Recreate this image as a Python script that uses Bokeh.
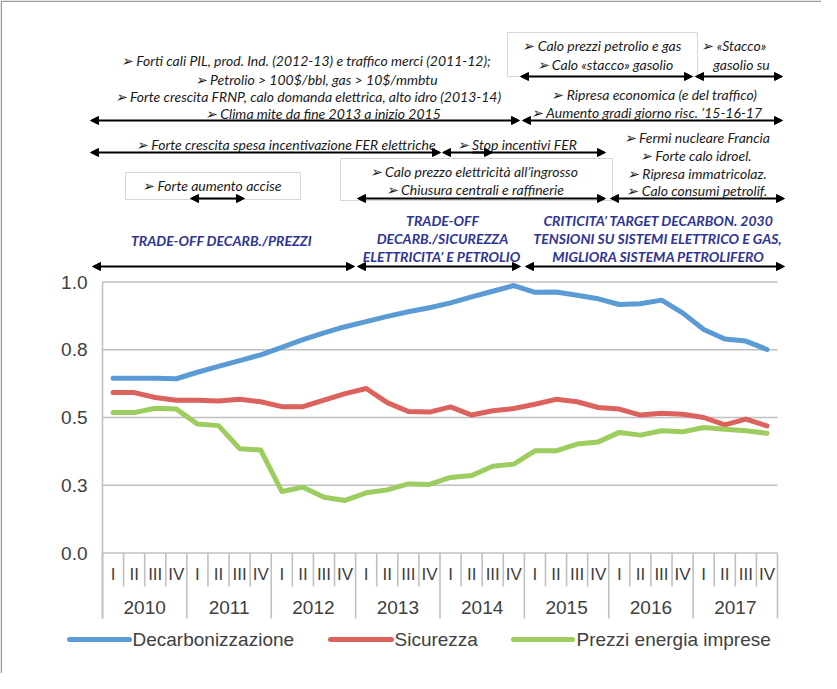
from bokeh.plotting import figure
from bokeh.models import Range1d, Arrow, NormalHead
from bokeh.core.properties import value
from bokeh.embed import file_html
from bokeh.resources import INLINE

# ---------------- data ----------------
years = ["2010", "2011", "2012", "2013", "2014", "2015", "2016", "2017"]
quarters = ["I", "II", "III", "IV"]

decarbonizzazione = [0.645, 0.645, 0.645, 0.643, 0.667, 0.689, 0.710, 0.731,
                     0.759, 0.787, 0.812, 0.835, 0.854, 0.873, 0.890, 0.905,
                     0.923, 0.945, 0.966, 0.987, 0.962, 0.963, 0.951, 0.938,
                     0.917, 0.920, 0.933, 0.886, 0.825, 0.790, 0.782, 0.751]
sicurezza = [0.592, 0.592, 0.574, 0.564, 0.564, 0.561, 0.567, 0.558,
             0.540, 0.540, 0.564, 0.588, 0.607, 0.555, 0.522, 0.520,
             0.539, 0.509, 0.525, 0.533, 0.549, 0.567, 0.558, 0.537,
             0.531, 0.509, 0.516, 0.512, 0.500, 0.473, 0.494, 0.469]
prezzi_energia = [0.518, 0.518, 0.534, 0.531, 0.476, 0.470, 0.385, 0.380,
                  0.227, 0.243, 0.206, 0.194, 0.222, 0.233, 0.255, 0.253,
                  0.279, 0.286, 0.320, 0.328, 0.377, 0.377, 0.402, 0.410,
                  0.445, 0.435, 0.451, 0.447, 0.463, 0.457, 0.451, 0.442]

y_ticks = [0.0, 0.25, 0.5, 0.75, 1.0]
y_tick_labels = ["0.0", "0.3", "0.5", "0.8", "1.0"]

series_names = ["Decarbonizzazione", "Sicurezza", "Prezzi energia imprese"]
series_colors = ["#5b9bd5", "#dc625e", "#9dcc5f"]

# ---------------- layout helpers (page pixels -> data units) ----------------
W, H = 821, 673
OX, OY = 8, 8            # page offset of the canvas
QW = 675.0 / 32          # pixels per quarter
YS = 271.0               # pixels per unit value
def X(px):
    return (px - 110.0) / QW - 0.5
def Y(py):
    return (560.5 - py) / YS

n = len(decarbonizzazione)
xs = list(range(n))

p = figure(width=W, height=H, output_backend="svg", toolbar_location=None,
           x_range=Range1d(X(OX), X(OX + W)), y_range=Range1d(Y(OY + H), Y(OY)),
           min_border=0, outline_line_color=None)
p.axis.visible = False
p.grid.visible = False
p.background_fill_color = "white"

# outer frame (left / top)
p.segment(x0=[X(8.8), X(8.8)], y0=[Y(8.8), Y(8.8)], x1=[X(8.8), X(840)], y1=[Y(700), Y(8.8)],
          line_color="#9a9a9a", line_width=1.5)

GRID = "#c0c0c0"
LABEL = "#404040"
# horizontal gridlines
p.segment(x0=[-0.5] * len(y_ticks), x1=[n - 0.5] * len(y_ticks), y0=y_ticks, y1=y_ticks,
          line_color=GRID, line_width=1.6)
# left frame line
p.segment(x0=[-0.5], x1=[-0.5], y0=[max(y_ticks)], y1=[Y(626)], line_color=GRID, line_width=1.6)
# quarter separators and year separators
qb = [k - 0.5 for k in range(1, n + 1) if k % 4 != 0]
yb = [k - 0.5 for k in range(0, n + 1, 4)]
p.segment(x0=qb, x1=qb, y0=[0] * len(qb), y1=[Y(594)] * len(qb), line_color=GRID, line_width=1.6)
p.segment(x0=yb, x1=yb, y0=[0] * len(yb), y1=[Y(626)] * len(yb), line_color=GRID, line_width=1.6)

# y tick labels
p.text(x=[X(95)] * len(y_ticks), y=y_ticks, text=y_tick_labels, text_align="right",
       text_baseline="middle", text_font=value("Liberation Sans"), text_font_size="19px",
       text_color=LABEL)
# quarter labels
p.text(x=xs, y=[Y(582)] * n, text=[quarters[i % 4] for i in xs], text_align="center",
       text_baseline="middle", text_font=value("Liberation Sans"), text_font_size="17px",
       text_color=LABEL)
# year labels
p.text(x=[4 * j + 1.5 for j in range(len(years))], y=[Y(615)] * len(years), text=years,
       text_align="center", text_baseline="middle", text_font=value("Liberation Sans"),
       text_font_size="19px", text_color=LABEL)

# series
for vals, col in zip([decarbonizzazione, sicurezza, prezzi_energia], series_colors):
    p.line(xs, vals, line_color=col, line_width=5, line_join="round", line_cap="round")

# legend
leg_x = [(77, 137, 140), (338, 399, 402), (521, 580, 584)]
for (a, b, t), name, col in zip(leg_x, series_names, series_colors):
    p.segment(x0=[X(a)], x1=[X(b)], y0=[Y(647)], y1=[Y(647)], line_color=col,
              line_width=5, line_cap="round")
    p.text(x=[X(t)], y=[Y(647)], text=[name], text_align="left", text_baseline="middle",
           text_font=value("Liberation Sans"), text_font_size="19px", text_color=LABEL)

# ---------------- annotation boxes ----------------
boxes = [(133, 308, 180, 207), (348, 620, 166, 208), (515, 705, 40, 84)]
p.quad(left=[X(b[0]) for b in boxes], right=[X(b[1]) for b in boxes],
       top=[Y(b[2]) for b in boxes], bottom=[Y(b[3]) for b in boxes],
       fill_color=None, line_color="#d6d6d6", line_width=1)

# ---------------- annotation texts ----------------
B = "\u27a2  "
notes = [
    (315, 68, B + "Forti cali PIL, prod. Ind. (2012-13) e traffico merci (2011-12);"),
    (327, 87, B + "Petrolio >  100$/bbl, gas > 10$/mmbtu"),
    (317, 104, B + "Forte crescita FRNP, calo domanda elettrica, alto idro (2013-14)"),
    (332, 121, B + "Clima mite da fine 2013 a inizio 2015"),
    (611, 53, B + "Calo prezzi petrolio e gas"),
    (614, 72, B + "Calo \u00abstacco\u00bb gasolio"),
    (743, 53, B + "\u00abStacco\u00bb"),
    (749, 72, "gasolio su"),
    (665, 102, B + "Ripresa economica  (e del traffico)"),
    (656, 120, B + "Aumento gradi giorno risc. \u201915-16-17"),
    (295, 152, B + "Forte crescita spesa incentivazione FER elettriche"),
    (526, 152, B + "Stop incentivi FER"),
    (706, 145, B + "Fermi nucleare Francia"),
    (705, 163, B + "Forte calo idroel."),
    (706, 181, B + "Ripresa immatricolaz."),
    (706, 198, B + "Calo consumi petrolif."),
    (221, 193, B + "Forte aumento accise"),
    (483, 179, B + "Calo prezzo elettricit\u00e0 all\u2019ingrosso"),
    (484, 197, B + "Chiusura centrali e raffinerie"),
]
p.text(x=[X(a[0]) for a in notes], y=[Y(a[1]) for a in notes], text=[a[2] for a in notes],
       text_align="center", text_baseline="middle", text_font=value("Lato"),
       text_font_style="italic", text_font_size="14px", text_color="#1a1a1a")

heads = [
    (229, 248, "TRADE-OFF DECARB./PREZZI"),
    (450, 228, "TRADE-OFF"),
    (450, 246, "DECARB./SICUREZZA"),
    (449, 264, "ELETTRICITA\u2019 E PETROLIO"),
    (666, 228, "CRITICITA\u2019 TARGET DECARBON. 2030"),
    (665, 246, "TENSIONI SU SISTEMI ELETTRICO E GAS,"),
    (666, 264, "MIGLIORA SISTEMA PETROLIFERO"),
]
p.text(x=[X(a[0]) for a in heads], y=[Y(a[1]) for a in heads], text=[a[2] for a in heads],
       text_align="center", text_baseline="middle", text_font=value("Lato"),
       text_font_style="bold italic", text_font_size="14px", text_color="#2f3592")

# ---------------- arrows ----------------
arrows = [
    (528, 700, 84), (703, 790, 84),
    (98, 527, 128), (530, 790, 128),
    (98, 448, 160), (450, 613, 160),
    (198, 252, 206), (365, 613, 206), (618, 792, 206),
    (100, 362, 274), (365, 528, 274), (533, 792, 274),
]
for a, b, yy in arrows:
    p.add_layout(Arrow(x_start=X(a), y_start=Y(yy), x_end=X(b), y_end=Y(yy),
                       start=NormalHead(size=8, fill_color="black", line_color="black"),
                       end=NormalHead(size=8, fill_color="black", line_color="black"),
                       line_width=2, line_color="black"))
# extra head inside the "Stop incentivi FER" arrow
p.add_layout(Arrow(x_start=X(480), y_start=Y(160), x_end=X(500), y_end=Y(160),
                   end=NormalHead(size=8, fill_color="black", line_color="black"),
                   line_width=2, line_color="black"))

open("out.html", "w").write(file_html(p, INLINE))
